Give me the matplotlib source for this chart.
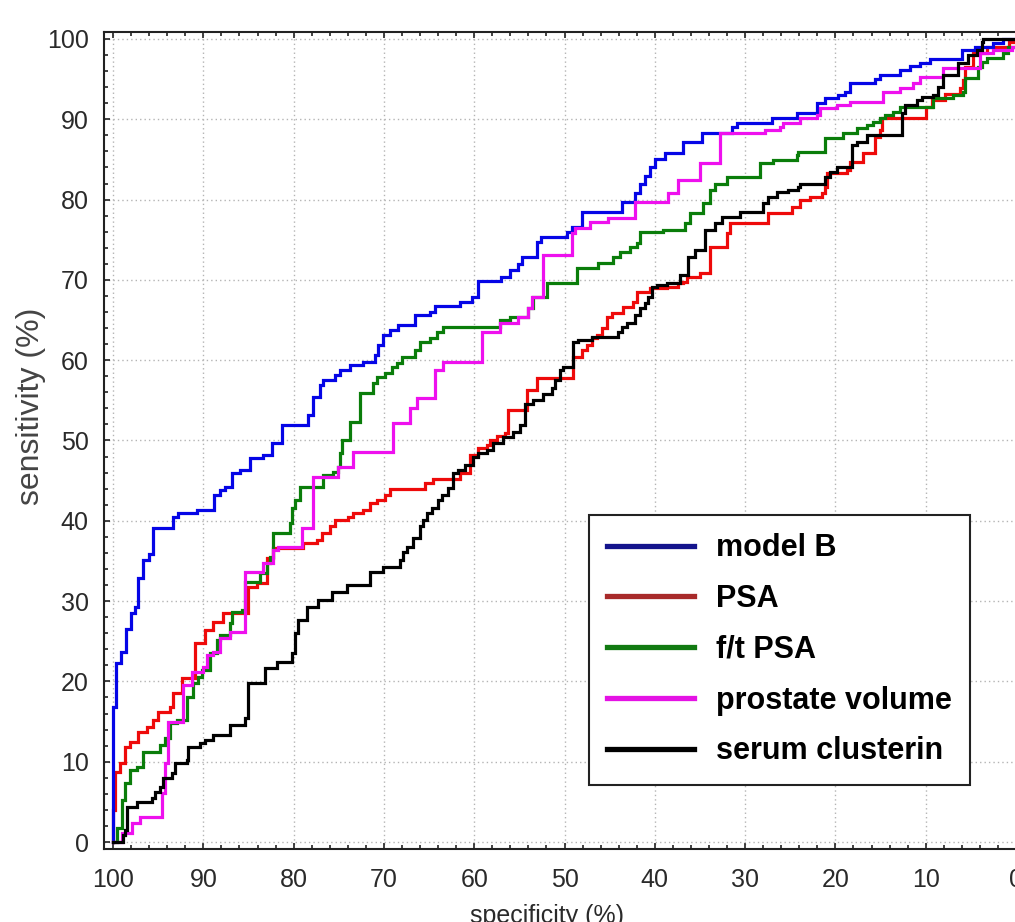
import matplotlib
matplotlib.use("Agg")
import matplotlib.pyplot as plt
from matplotlib.lines import Line2D
from matplotlib.ticker import MultipleLocator

# ---- data (specificity %, sensitivity %) step vertices ----
modelB_spec = [100, 100, 99.7, 99.15, 98.56, 98.04, 97.56, 97.26, 96.71, 96.01, 95.6, 93.36, 92.8, 90.7,
               88.8, 88.15, 87.6, 86.8, 85.9, 84.8, 83.4, 82.4, 81.3, 78.4, 77.9, 77.1, 76.8, 75.4, 74.9,
               73.8, 72.3, 71.0, 70.7, 70.1, 69.3, 68.4, 66.6, 64.9, 64.3, 61.6, 60.2, 59.6, 57.0, 56.0,
               55.1, 54.7, 53.0, 52.6, 49.7, 49.2, 48.1, 43.6, 42.2, 41.6, 41.1, 40.5, 40.0, 38.9, 36.9,
               34.8, 31.5, 30.9, 27.0, 24.3, 22.0, 21.2, 19.7, 18.9, 18.4, 15.6, 15.1, 12.8, 11.7, 10.6,
               9.5, 6.0, 4.5, 2.5, 1.4, 0]
modelB_sens = [0, 16.8, 22.3, 23.7, 26.5, 28.5, 29.3, 32.9, 35.1, 35.9, 39.1, 40.5, 41.0, 41.3,
               43.2, 43.8, 44.2, 46.0, 46.3, 47.8, 48.2, 49.7, 51.9, 53.2, 55.4, 56.9, 57.5, 58.2, 58.8,
               59.4, 59.8, 60.6, 61.9, 63.1, 63.8, 64.4, 65.6, 66.0, 66.7, 67.2, 67.9, 69.9, 70.4, 71.2,
               72.0, 72.9, 74.7, 75.3, 76.0, 76.6, 78.4, 79.7, 80.8, 82.0, 83.0, 84.0, 85.0, 85.8, 87.2,
               88.3, 89.0, 89.5, 90.2, 90.8, 92.0, 92.6, 93.0, 93.4, 94.5, 95.0, 95.5, 96.1, 96.6, 97.0,
               97.5, 98.6, 99.0, 99.5, 100, 100]

psa_spec = [100, 100, 99.8, 99.2, 98.7, 98.1, 97.2, 96.2, 95.6, 95.0, 93.7, 93.4, 92.4, 90.9, 89.8, 88.9,
            87.8, 85.0, 84.1, 82.9, 82.3, 79.0, 77.4, 76.9, 76.0, 75.4, 74.0, 73.4, 72.3, 71.5, 70.8,
            69.9, 69.3, 65.4, 64.6, 61.6, 60.5, 59.6, 58.6, 58.3, 57.5, 56.6, 56.3, 54.2, 53.0, 49.1,
            48.1, 47.5, 47.0, 46.4, 45.8, 45.3, 44.7, 43.5, 42.4, 42.0, 40.5, 38.6, 37.4, 36.9, 36.4,
            35.0, 33.9, 32.0, 31.7, 27.5, 24.8, 23.9, 22.8, 21.5, 21.2, 20.9, 18.7, 18.4, 16.9, 15.6,
            15.1, 14.8, 10.0, 9.3, 7.9, 6.2, 5.9, 5.6, 4.8, 3.2, 0.8, 0]
psa_sens = [0, 4.0, 8.7, 9.8, 11.8, 12.5, 13.7, 14.3, 15.2, 16.2, 16.8, 18.5, 20.4, 24.8, 26.4, 27.4,
            28.5, 31.8, 32.3, 35.4, 36.6, 37.2, 37.6, 38.5, 39.3, 40.1, 40.5, 41.0, 41.3, 42.2, 42.6,
            43.2, 43.9, 44.7, 45.2, 45.9, 48.2, 49.1, 49.4, 50.1, 50.5, 50.9, 53.8, 56.3, 57.8, 60.4,
            61.3, 61.9, 62.8, 63.1, 64.0, 65.4, 65.9, 66.6, 67.2, 68.5, 69.0, 69.1, 69.6, 69.7, 70.4,
            70.9, 74.1, 75.8, 77.1, 78.3, 79.1, 79.9, 80.3, 80.8, 81.6, 83.3, 83.7, 84.7, 85.8, 87.8,
            88.7, 90.2, 91.5, 92.4, 93.2, 93.9, 94.9, 96.5, 98.3, 99.0, 99.6, 99.6]

ftpsa_spec = [100, 99.6, 99.0, 98.7, 98.1, 97.3, 96.7, 94.8, 94.2, 93.7, 92.9, 91.8, 91.1, 90.6, 90.1,
              89.3, 88.5, 88.2, 87.0, 86.8, 85.7, 85.4, 83.7, 82.9, 82.6, 82.3, 80.4, 80.2, 79.8, 79.3,
              76.7, 75.6, 75.1, 74.9, 74.6, 73.8, 72.6, 71.2, 70.8, 69.9, 69.1, 68.5, 68.0, 66.6, 66.0,
              64.9, 64.1, 63.5, 57.1, 56.0, 54.0, 53.5, 51.9, 48.6, 46.3, 44.6, 43.9, 42.7, 42.0, 41.6,
              39.1, 36.7, 36.1, 34.7, 33.9, 33.3, 32.0, 28.4, 26.9, 24.3, 24.1, 21.2, 19.2, 17.6, 16.5,
              15.8, 15.1, 14.5, 13.6, 12.8, 9.2, 7.0, 5.9, 5.6, 4.2, 3.8, 3.2, 1.4, 0.9, 0]
ftpsa_sens = [0, 1.7, 5.2, 7.3, 9.0, 9.3, 11.2, 12.1, 12.9, 14.8, 15.2, 18.1, 19.8, 20.6, 21.4,
              23.5, 25.2, 25.8, 27.3, 28.6, 28.9, 32.4, 33.5, 34.7, 35.5, 38.5, 39.7, 41.6, 42.6, 44.2,
              45.7, 46.1, 46.7, 48.4, 50.1, 52.3, 55.9, 57.2, 57.9, 58.4, 59.2, 59.6, 60.4, 61.3, 62.3,
              62.8, 63.5, 64.1, 65.0, 65.4, 66.5, 67.9, 69.6, 71.5, 72.1, 72.9, 73.5, 74.1, 74.6, 76.0,
              76.2, 77.1, 78.3, 79.6, 81.2, 82.0, 82.8, 84.5, 84.9, 85.6, 85.9, 87.7, 88.3, 88.9, 89.3,
              89.7, 90.2, 90.5, 90.9, 91.5, 92.6, 93.0, 93.4, 95.1, 96.5, 97.1, 97.6, 98.3, 99.0, 99.0]

volume_spec = [100, 99.0, 97.9, 97.0, 94.6, 94.2, 93.9, 92.2, 91.3, 90.0, 89.6, 88.9, 88.2, 87.0, 85.4,
               83.4, 82.3, 81.7, 79.1, 77.9, 75.1, 73.4, 69.0, 67.1, 66.3, 64.3, 63.5, 59.1, 57.1, 55.1,
               54.0, 53.6, 52.4, 49.2, 48.8, 47.2, 45.2, 42.2, 38.5, 37.4, 35.0, 32.8, 27.8, 26.1, 25.8,
               23.9, 22.0, 21.7, 19.8, 18.4, 14.7, 12.8, 11.4, 10.6, 8.1, 4.0, 2.5, 0.4, 0]
volume_sens = [0, 1.1, 2.4, 3.1, 6.1, 9.8, 15.0, 19.5, 21.2, 21.8, 23.3, 23.7, 25.4, 26.2, 33.6,
               34.7, 36.4, 36.7, 39.1, 45.5, 46.7, 48.6, 52.2, 54.0, 55.3, 58.8, 59.8, 63.5, 64.6, 65.4,
               66.5, 67.9, 73.1, 75.8, 76.5, 77.2, 77.7, 79.7, 80.8, 82.4, 84.5, 88.3, 88.7, 89.0, 89.5,
               90.2, 90.5, 91.4, 91.8, 92.2, 93.4, 93.9, 94.5, 95.3, 96.4, 98.3, 98.6, 99.0, 99.0]

clusterin_spec = [100, 98.9, 98.7, 98.4, 97.3, 95.7, 95.3, 94.8, 94.5, 93.5, 93.1, 91.8, 91.7, 90.4, 89.8,
                  88.9, 87.0, 85.4, 85.0, 83.2, 81.8, 80.2, 79.8, 79.5, 78.5, 77.3, 75.7, 74.1, 71.5, 70.1,
                  68.2, 67.9, 67.4, 66.8, 66.0, 65.7, 65.2, 64.7, 64.0, 63.6, 62.9, 62.3, 61.8, 61.0, 60.1,
                  59.6, 58.6, 57.9, 56.8, 55.7, 54.9, 54.4, 53.5, 52.4, 51.4, 51.1, 50.5, 50.2, 49.1, 48.5,
                  47.0, 44.1, 43.6, 43.1, 42.2, 41.6, 41.1, 40.8, 40.3, 39.8, 38.6, 37.2, 36.3, 35.5, 34.4,
                  33.3, 32.6, 30.6, 28.0, 27.5, 26.5, 25.2, 24.1, 23.9, 21.2, 20.6, 19.8, 18.2, 17.6, 16.5,
                  12.6, 12.3, 11.0, 10.4, 9.2, 8.6, 8.1, 6.4, 5.3, 4.3, 3.8, 3.7, 0]
clusterin_sens = [0, 0.9, 1.5, 4.4, 5.0, 5.5, 6.2, 6.9, 8.0, 8.6, 9.8, 10.2, 11.8, 12.3, 12.7,
                  13.3, 14.6, 15.4, 19.8, 21.7, 22.4, 23.5, 26.0, 27.6, 29.3, 30.1, 31.1, 32.0, 33.6, 34.2,
                  35.1, 36.1, 36.7, 37.9, 39.3, 40.1, 41.0, 41.6, 42.6, 43.2, 44.1, 46.0, 46.3, 46.9, 48.0,
                  48.4, 48.8, 49.7, 50.4, 51.1, 51.9, 54.5, 55.1, 55.8, 56.5, 57.5, 58.8, 59.2, 62.3, 62.5,
                  62.9, 63.5, 64.1, 64.6, 65.6, 66.5, 67.1, 67.9, 69.1, 69.4, 69.6, 70.6, 72.9, 73.7, 76.2,
                  77.1, 77.8, 78.5, 79.6, 80.3, 80.9, 81.2, 81.6, 82.0, 82.8, 83.4, 84.1, 86.8, 87.2, 88.0,
                  90.8, 91.8, 92.4, 92.8, 93.0, 94.0, 95.5, 97.0, 98.0, 98.6, 99.6, 100, 100]

labels = ["model B", "PSA", "f/t PSA", "prostate volume", "serum clusterin"]
line_colors = ["#0505e6", "#ee0a0a", "#0a7d0a", "#ee10ee", "#000000"]
legend_colors = ["#14148c", "#a82a2a", "#117a11", "#e412e4", "#000000"]
x_ticks = [100, 90, 80, 70, 60, 50, 40, 30, 20, 10, 0]
y_ticks = [0, 10, 20, 30, 40, 50, 60, 70, 80, 90, 100]

plt.rcParams['font.family'] = ['Liberation Sans', 'DejaVu Sans']

W, H = 1015, 922
fig = plt.figure(figsize=(W / 100, H / 100), dpi=100)
ax = fig.add_axes([104 / W, 1 - 849 / H, (1025 - 104) / W, (849 - 32) / H])

series = [(modelB_spec, modelB_sens), (psa_spec, psa_sens), (ftpsa_spec, ftpsa_sens),
          (volume_spec, volume_sens), (clusterin_spec, clusterin_sens)]
order = [1, 0, 2, 3, 4]
for i in order:
    xs, ys = series[i]
    ax.step(xs, ys, where='post', color=line_colors[i], lw=2.3, zorder=3,
            solid_joinstyle='miter')

ax.set_xlim(101, -1)
ax.set_ylim(-0.87, 100.87)
ax.set_xticks(x_ticks)
ax.set_yticks(y_ticks)
ax.xaxis.set_minor_locator(MultipleLocator(2))
ax.yaxis.set_minor_locator(MultipleLocator(2))
ax.tick_params(which='both', direction='in', top=True, right=True, color='#222222', width=1.2)
ax.tick_params(which='major', length=4.5, labelsize=18, labelcolor='#2a2a2a')
ax.tick_params(which='minor', length=3)
ax.tick_params(axis='y', which='major', pad=11)
ax.tick_params(axis='x', which='major', pad=14)
ax.grid(True, which='major', color='#b4b4b4', linestyle=(0, (1, 2.2)), lw=1.0, zorder=0)
for sp in ax.spines.values():
    sp.set_linewidth(1.5)
    sp.set_color('#222222')

ax.set_ylabel("sensitivity (%)", fontsize=23, color='#444444')
ax.yaxis.set_label_coords((46 - 104) / 921, (849 - 406) / 817)
ax.set_xlabel("specificity (%)", fontsize=18, color='#2a2a2a')
ax.xaxis.set_label_coords((547 - 104) / 921, -(904 - 849) / 817)

handles = [Line2D([0], [0], color=c, lw=3.8) for c in legend_colors]
leg = ax.legend(handles, labels, loc='upper left', bbox_to_anchor=(589 / W, 1 - 515 / H),
                bbox_transform=fig.transFigure, borderaxespad=0, frameon=True, fancybox=False,
                prop={'weight': 'bold', 'size': 22}, handlelength=2.85, handletextpad=0.69,
                borderpad=0.6, labelspacing=0.68)
leg.get_frame().set_edgecolor('#222222')
leg.get_frame().set_linewidth(1.5)
leg.get_frame().set_facecolor('white')
leg.get_frame().set_alpha(1)
leg.set_zorder(10)

fig.savefig("out.png", dpi=100)
